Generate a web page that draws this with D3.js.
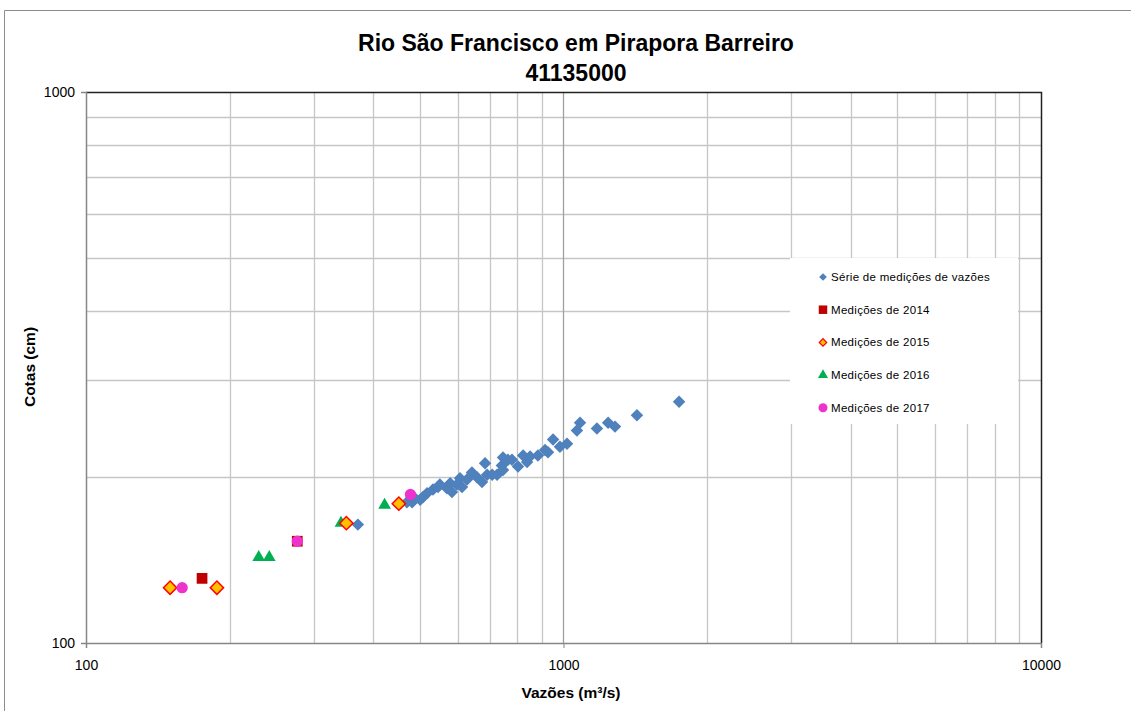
<!DOCTYPE html>
<html lang="pt">
<head>
  <meta charset="UTF-8">
  <title>Rio São Francisco em Pirapora Barreiro</title>
  <script src="https://cdn.jsdelivr.net/npm/d3@7"></script>
  <style>
    body { margin: 0; background: #fff; }
    text { font-family: "Liberation Sans", Arial, sans-serif; }
  </style>
</head>
<body>
  <script>
    // série principal (vazão m3/s, cota cm)
    const serieQ = [371, 470, 482, 501, 508, 518, 533, 546, 570, 579, 584, 607, 613, 628, 643, 659, 675, 685,
      692, 709, 726, 743, 747, 747, 780, 803, 823, 839, 851, 915, 928, 951, 983, 1017, 1067, 1083, 1175,
      1240, 1282, 1425, 1746, 489, 551, 598, 765, 884];
    const serieH = [164, 180, 180, 182, 184, 187, 190, 192, 191, 195, 188, 199, 192, 198, 204, 200, 196, 212,
      202, 202, 202, 210, 217, 206, 215, 209, 219, 213, 218, 224, 222, 234, 227, 230, 243, 251, 245,
      251, 247, 259, 274, 183, 194, 194, 215, 219];

    const q2014 = [175, 277];
    const h2014 = [131, 153];
    const q2015 = [150, 188, 351, 452];
    const h2015 = [126, 126, 165, 179];
    const q2016 = [230, 242, 342, 422];
    const h2016 = [143, 143, 165, 178];
    const q2017 = [159, 277, 478];
    const h2017 = [126, 153, 186];

    const xTicks = [100, 1000, 10000];
    const yTicks = [100, 1000];
    const legendLabels = ["Série de medições de vazões", "Medições de 2014", "Medições de 2015",
      "Medições de 2016", "Medições de 2017"];

    const width = 1131, height = 711;
    const pLeft = 86, pRight = 1041, pTop = 92, pBottom = 643;

    const svg = d3.select("body").append("svg")
      .attr("width", width)
      .attr("height", height);

    // borda do gráfico
    svg.append("path")
      .attr("d", `M4.5,${height} L4.5,10.5 L${width},10.5`)
      .attr("fill", "none")
      .attr("stroke", "#8c8c8c");

    const x = d3.scaleLog().domain([100, 10000]).range([pLeft, pRight]);
    const y = d3.scaleLog().domain([100, 1000]).range([pBottom, pTop]);

    // grade
    const xGrid = [];
    [100, 1000].forEach(d => { for (let k = 2; k <= 9; k++) xGrid.push(d * k); });
    const yGrid = [200, 300, 400, 500, 600, 700, 800, 900];

    svg.append("g").selectAll("line").data(xGrid).enter().append("line")
      .attr("x1", d => Math.round(x(d)) + 0.5).attr("x2", d => Math.round(x(d)) + 0.5)
      .attr("y1", pTop).attr("y2", pBottom)
      .attr("stroke", "#c6c6c6").attr("stroke-width", 1.3);

    svg.append("g").selectAll("line").data(yGrid).enter().append("line")
      .attr("y1", d => Math.round(y(d)) + 0.5).attr("y2", d => Math.round(y(d)) + 0.5)
      .attr("x1", pLeft).attr("x2", pRight)
      .attr("stroke", "#c6c6c6").attr("stroke-width", 1.3);

    svg.append("line")
      .attr("x1", Math.round(x(1000)) + 0.5).attr("x2", Math.round(x(1000)) + 0.5)
      .attr("y1", pTop).attr("y2", pBottom)
      .attr("stroke", "#a0a0a0").attr("stroke-width", 1.3);

    // borda da área de plotagem
    svg.append("path")
      .attr("d", `M${pLeft},${pTop + 0.5} L${pRight + 0.5},${pTop + 0.5} L${pRight + 0.5},${pBottom}`)
      .attr("fill", "none").attr("stroke", "#222").attr("stroke-width", 1.5);

    // eixos
    const xAxis = d3.axisBottom(x).tickValues(xTicks).tickFormat(d3.format("d")).tickSize(5).tickPadding(12);
    const yAxis = d3.axisLeft(y).tickValues(yTicks).tickFormat(d3.format("d")).tickSize(5).tickPadding(6);

    const gx = svg.append("g").attr("transform", `translate(0,${pBottom})`).call(xAxis);
    const gy = svg.append("g").attr("transform", `translate(${pLeft},0)`).call(yAxis);
    [gx, gy].forEach(g => {
      g.select(".domain").attr("stroke", "#868686").attr("stroke-width", 1.5);
      g.selectAll(".tick line").attr("stroke", "#868686");
      g.selectAll(".tick text").attr("font-size", 14).attr("fill", "#000")
        .style("font-family", "Liberation Sans, Arial, sans-serif");
    });

    // legenda (fundo branco por cima da grade)
    const lg = svg.append("g");
    lg.append("rect")
      .attr("x", 790).attr("y", 258).attr("width", 228).attr("height", 166)
      .attr("fill", "#fff");

    const sym = (type, s) => d3.symbol().type(type).size(s)();

    const series = [
      { q: serieQ, h: serieH, type: d3.symbolSquare, size: 78, rot: 45, fill: "#4F81BD", stroke: "none", sw: 0, lsize: 30 },
      { q: q2014, h: h2014, type: d3.symbolSquare, size: 115, rot: 0, fill: "#C00000", stroke: "none", sw: 0, lsize: 72 },
      { q: q2016, h: h2016, type: d3.symbolTriangle, size: 70, rot: 0, fill: "#00B050", stroke: "none", sw: 0, lsize: 44 },
      { q: q2015, h: h2015, type: d3.symbolSquare, size: 88, rot: 45, fill: "#FFC000", stroke: "#FF0000", sw: 1.5, lsize: 28 },
      { q: q2017, h: h2017, type: d3.symbolCircle, size: 100, rot: 0, fill: "#EE33CC", stroke: "none", sw: 0, lsize: 64 }
    ];

    series.forEach(s => {
      svg.append("g").selectAll("path").data(s.q).enter().append("path")
        .attr("d", sym(s.type, s.size))
        .attr("transform", (d, i) => `translate(${x(d)},${y(s.h[i])}) rotate(${s.rot})`)
        .attr("fill", s.fill)
        .attr("stroke", s.stroke)
        .attr("stroke-width", s.sw);
    });

    // itens da legenda na ordem original
    const legendOrder = [0, 1, 3, 2, 4];
    legendOrder.forEach((si, i) => {
      const s = series[si];
      const ly = 277 + i * 32.7;
      lg.append("path")
        .attr("d", sym(s.type, s.lsize))
        .attr("transform", `translate(823,${ly}) rotate(${s.rot})`)
        .attr("fill", s.fill)
        .attr("stroke", s.stroke)
        .attr("stroke-width", s.sw ? 1.2 : 0);
      lg.append("text")
        .attr("x", 831).attr("y", ly + 4)
        .attr("font-size", 11.5)
        .attr("letter-spacing", 0.3)
        .text(legendLabels[i]);
    });

    // títulos
    svg.append("text")
      .attr("x", 576).attr("y", 51)
      .attr("text-anchor", "middle")
      .attr("font-size", 23).attr("font-weight", "bold")
      .text("Rio São Francisco em Pirapora Barreiro");
    svg.append("text")
      .attr("x", 576).attr("y", 81)
      .attr("text-anchor", "middle")
      .attr("font-size", 23).attr("font-weight", "bold")
      .text("41135000");

    svg.append("text")
      .attr("x", 571).attr("y", 698)
      .attr("text-anchor", "middle")
      .attr("font-size", 15.5).attr("font-weight", "bold")
      .text("Vazões (m³/s)");

    svg.append("text")
      .attr("transform", "translate(35,367) rotate(-90)")
      .attr("text-anchor", "middle")
      .attr("font-size", 15.5).attr("font-weight", "bold")
      .text("Cotas (cm)");
  </script>
</body>
</html>
